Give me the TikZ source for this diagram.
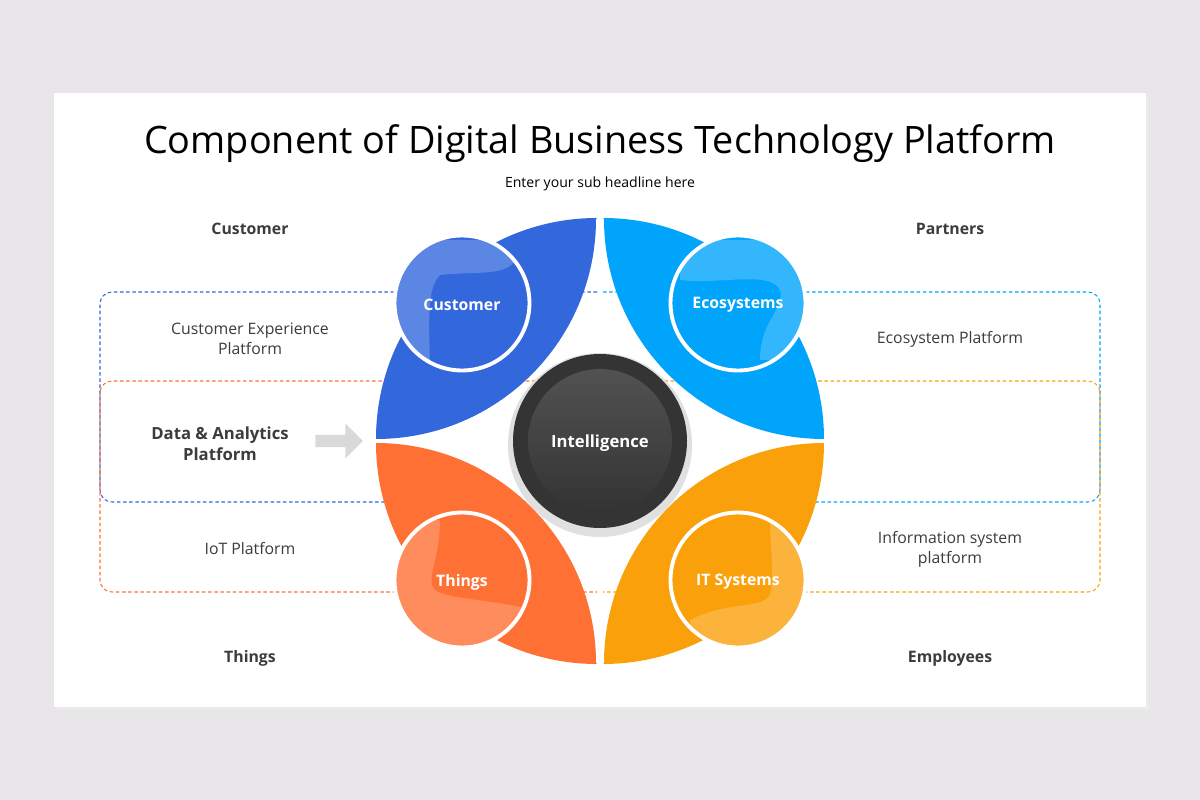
\documentclass[tikz,border=0pt]{standalone}
\usepackage{fontspec}
\setmainfont{Open Sans}
\usetikzlibrary{shapes.arrows}

\definecolor{cbg}{RGB}{232,230,232}
\definecolor{cblue}{RGB}{50,104,220}
\definecolor{ccyan}{RGB}{0,164,250}
\definecolor{corange}{RGB}{255,112,52}
\definecolor{cyellow}{RGB}{250,160,10}
\definecolor{cdark}{RGB}{52,52,52}
\definecolor{ctext}{RGB}{60,60,60}

\tikzset{
  side/.style={font=\fontsize{9}{11.5}\selectfont, text=ctext, align=center},
  head/.style={font=\fontsize{9}{11}\selectfont\bfseries, text=ctext},
  bubble/.style={circle, draw=white, line width=2.2pt, minimum size=2.7cm},
  blabel/.style={font=\fontsize{9}{11}\selectfont\bfseries, text=white},
  frame/.style={line width=0.6pt, dash pattern=on 2pt off 1.5pt}
}

\begin{document}
\begin{tikzpicture}[x=0.02cm, y=-0.02cm]
  % background
  \fill[cbg] (0,0) rectangle (1200,800);
  \useasboundingbox (0,0) rectangle (1200,800);
  \fill[black!8] (56,96) rectangle (1149,710);
  \fill[white] (54,93) rectangle (1146,707);

  % titles
  \node (title) at (600,144) {\fontsize{21.5}{26}\selectfont Component of Digital Business Technology Platform};
  \node[side, font=\fontsize{8}{10}\selectfont, text=black] (sub) at (600,184) {Enter your sub headline here};

  % dashed frames
  \draw[frame, cblue] (597,292) -- (112,292) arc[start angle=-90, end angle=-180, radius=12] -- (100,490) arc[start angle=180, end angle=90, radius=12] -- (597,502);
  \draw[frame, ccyan] (603,292) -- (1088,292) arc[start angle=-90, end angle=0, radius=12] -- (1100,490) arc[start angle=0, end angle=90, radius=12] -- (603,502);
  \draw[frame, corange] (597,381) -- (112,381) arc[start angle=-90, end angle=-180, radius=12] -- (100,580) arc[start angle=180, end angle=90, radius=12] -- (597,592);
  \draw[frame, cyellow] (603,381) -- (1088,381) arc[start angle=-90, end angle=0, radius=12] -- (1100,580) arc[start angle=0, end angle=90, radius=12] -- (603,592);

  % petals
  \fill[cblue] (597,218) arc[start angle=-90, end angle=-180, radius=221] arc[start angle=90, end angle=0, radius=220];
  \fill[ccyan] (603,218) arc[start angle=-90, end angle=0, radius=221] arc[start angle=90, end angle=180, radius=220];
  \fill[corange] (597,664) arc[start angle=90, end angle=180, radius=221] arc[start angle=-90, end angle=0, radius=220];
  \fill[cyellow] (603,664) arc[start angle=90, end angle=0, radius=221] arc[start angle=-90, end angle=-180, radius=220];

  % bubbles
  \node[bubble, fill=cblue] (cust) at (462,303) {};
  \node[bubble, fill=ccyan] (eco) at (738,303) {};
  \node[bubble, fill=corange] (thing) at (462,580) {};
  \node[bubble, fill=cyellow] (its) at (738,580) {};
  \begin{scope}
    \clip (462,303) circle[radius=66];
    \fill[white, opacity=0.2] (390,240) -- (520,240) .. controls (520,280) and (490,270) .. (440,275) .. controls (425,290) and (430,330) .. (430,380) -- (390,380) -- cycle;
  \end{scope}
  \begin{scope}
    \clip (738,303) circle[radius=66];
    \fill[white, opacity=0.2] (680,240) -- (810,240) -- (810,360) -- (760,360) .. controls (760,320) and (785,310) .. (780,290) .. controls (770,270) and (720,285) .. (680,280) -- cycle;
  \end{scope}
  \begin{scope}
    \clip (462,580) circle[radius=66];
    \fill[white, opacity=0.2] (390,520) -- (440,520) .. controls (440,560) and (425,580) .. (435,590) .. controls (450,600) and (500,600) .. (530,610) -- (530,650) -- (390,650) -- cycle;
  \end{scope}
  \begin{scope}
    \clip (738,580) circle[radius=66];
    \fill[white, opacity=0.2] (770,520) -- (810,520) -- (810,650) -- (690,650) -- (690,620) .. controls (730,600) and (760,610) .. (770,595) .. controls (775,575) and (770,550) .. (770,520) -- cycle;
  \end{scope}
  \node[blabel] (tcust) at (462,305) {Customer};
  \node[blabel] (teco) at (738,305) {Ecosystems};
  \node[blabel] (tthing) at (462,582) {Things};
  \node[blabel] (tits) at (738,582) {IT Systems};

  % centre
  \fill[black!12] (600,445) circle[radius=92];
  \fill[cdark] (600,441) circle[radius=87];
  \shade[top color=black!68, bottom color=black!80] (600,441) circle[radius=72];
  \node[blabel, font=\fontsize{9.5}{11}\selectfont\bfseries] (intel) at (600,443) {Intelligence};

  % side labels
  \node[head] (hcust) at (250,229) {Customer};
  \node[head] (hpart) at (950,229) {Partners};
  \node[head] (hthing) at (250,658) {Things};
  \node[head] (hemp) at (950,658) {Employees};
  \node[side] (cep) at (250,339) {Customer Experience\\Platform};
  \node[side] (ecp) at (950,339) {Ecosystem Platform};
  \node[side, font=\fontsize{9.5}{12}\selectfont\bfseries] (dap) at (220,444) {Data \& Analytics\\Platform};
  \node[side] (iot) at (250,549) {IoT Platform};
  \node[side] (isp) at (950,549) {Information system\\platform};
  \node[single arrow, fill=black!15, minimum height=0.95cm, minimum width=0.7cm,
    single arrow head extend=0.08cm, inner sep=1pt] (arr) at (336,441) {};
\end{tikzpicture}
\end{document}
